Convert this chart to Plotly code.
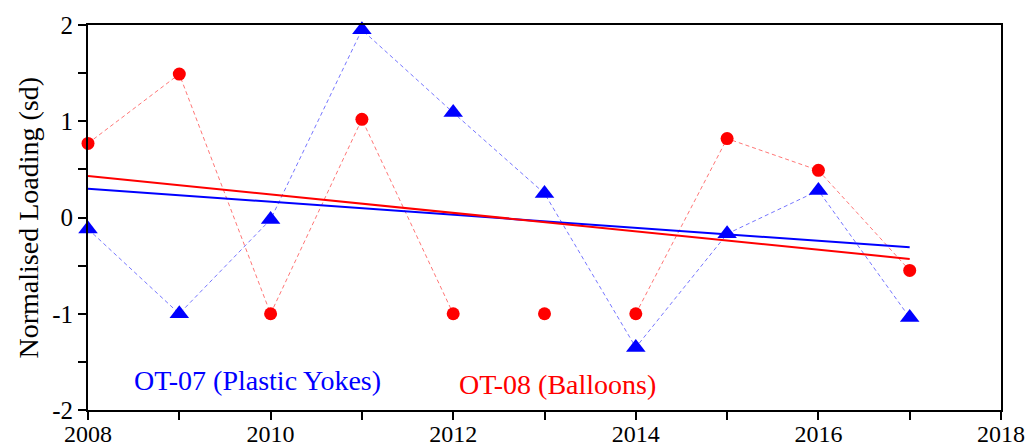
import plotly.graph_objects as go

years = [2008, 2009, 2010, 2011, 2012, 2013, 2014, 2015, 2016, 2017]
ot07 = [-0.12, -1.0, -0.02, 1.95, 1.09, 0.25, -1.35, -0.17, 0.28, -1.04]
ot08 = [0.77, 1.49, -1.0, 1.02, -1.0, -1.0, -1.0, 0.82, 0.49, -0.55]
# red connecting line is not drawn through 2013
ot08_line_gap_year = 2013

trend_years = [2008, 2017]
ot07_trend = [0.30, -0.31]
ot08_trend = [0.43, -0.43]

y_ticks = [-2, -1, 0, 1, 2]
y_ticklabels = ["-2", "-1", "0", "1", "2"]
x_ticks = [2008, 2010, 2012, 2014, 2016, 2018]

BLUE = "#0000ff"
RED = "#ff0000"
FONT = "Liberation Serif"

fig = go.Figure()

fig.add_trace(go.Scatter(
    x=years, y=ot07, mode="lines",
    line=dict(color="rgba(60,60,255,0.7)", width=1, dash="4px,3px"),
    hoverinfo="skip", showlegend=False))
ot08_line = [None if yr == ot08_line_gap_year else v for yr, v in zip(years, ot08)]
fig.add_trace(go.Scatter(
    x=years, y=ot08_line, mode="lines", connectgaps=False,
    line=dict(color="rgba(255,60,60,0.7)", width=1, dash="4px,3px"),
    hoverinfo="skip", showlegend=False))

fig.add_trace(go.Scatter(
    x=trend_years, y=ot07_trend, mode="lines",
    line=dict(color=BLUE, width=2), showlegend=False))
fig.add_trace(go.Scatter(
    x=trend_years, y=ot08_trend, mode="lines",
    line=dict(color=RED, width=2), showlegend=False))

fig.add_trace(go.Scatter(
    x=years, y=ot08, mode="markers",
    marker=dict(symbol="circle", size=13, color=RED),
    cliponaxis=False, name="OT-08 (Balloons)", showlegend=False))
fig.add_trace(go.Scatter(
    x=years, y=ot07, mode="markers",
    marker=dict(symbol="triangle-up", size=17, color=BLUE),
    cliponaxis=False, name="OT-07 (Plastic Yokes)", showlegend=False))

fig.add_annotation(x=2009.86, y=-1.69, text="OT-07 (Plastic Yokes)",
                   showarrow=False, font=dict(family=FONT, size=28, color=BLUE))
fig.add_annotation(x=2013.14, y=-1.73, text="OT-08 (Balloons)",
                   showarrow=False, font=dict(family=FONT, size=28, color=RED))

# y-axis title placed as rotated text left of the axis
fig.add_annotation(xref="paper", yref="paper", x=0, y=0.5, xshift=-60,
                   xanchor="center", yanchor="middle",
                   text="Normalised Loading (sd)", textangle=-90, showarrow=False,
                   font=dict(family=FONT, size=28, color="black"))

fig.update_layout(
    width=1032, height=448,
    margin=dict(l=88, r=31, t=25, b=38),
    paper_bgcolor="white", plot_bgcolor="white",
    font=dict(family=FONT, size=24, color="black"),
    showlegend=False,
)
fig.update_xaxes(
    automargin=False,
    range=[2008, 2018], tickvals=x_ticks, ticktext=[str(v) for v in x_ticks],
    showgrid=False, zeroline=False,
    showline=True, linecolor="black", linewidth=2, mirror=True,
    ticks="outside", ticklen=8, tickwidth=2, tickcolor="black",
    minor=dict(dtick=1, tick0=2008, ticks="outside", ticklen=8, tickwidth=2, tickcolor="black"),
    tickfont=dict(family=FONT, size=24),
    ticklabelstandoff=-7,
)
fig.update_yaxes(
    automargin=False,
    range=[-2, 2], tickvals=y_ticks, ticktext=y_ticklabels,
    showgrid=False, zeroline=False,
    showline=True, linecolor="black", linewidth=2, mirror=True,
    ticks="outside", ticklen=8, tickwidth=2, tickcolor="black",
    minor=dict(dtick=0.5, tick0=-2, ticks="outside", ticklen=8, tickwidth=2, tickcolor="black"),
    tickfont=dict(family=FONT, size=25),
)

fig.write_html("out.html", post_script="document.body.style.margin='0';",
               config={"displayModeBar": False})
